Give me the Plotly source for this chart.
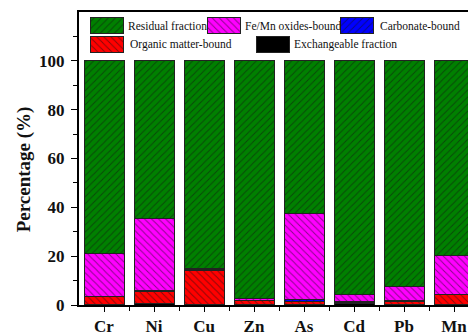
import plotly.graph_objects as go

# Chemical fractionation of heavy metals (% of total)
metals = ["Cr", "Ni", "Cu", "Zn", "As", "Cd", "Pb", "Mn"]
exchangeable = [0.1, 0.6, 0.3, 0.1, 0.2, 0.5, 0.1, 0.2]
organic = [3.2, 5.0, 13.9, 1.6, 1.4, 0.6, 1.5, 3.9]
carbonate = [0.2, 0.2, 0.2, 0.2, 0.8, 0.2, 0.1, 0.2]
fe_mn = [17.4, 29.5, 0.7, 0.9, 35.2, 3.0, 6.0, 15.9]
residual = [79.1, 64.7, 84.9, 97.2, 62.4, 95.7, 92.3, 79.8]

y_ticks = [0, 20, 40, 60, 80, 100]

W, H = 468, 336
L, R, T, B = 79, 0, 12, 26
PW, PH = W - L - R, H - T - B

SERIF = "Liberation Serif, Times New Roman, serif"

# (name, values, fill colour, hatch) in stacking order, bottom to top
series = [
    ("Exchangeable fraction", exchangeable, "#000000", ""),
    ("Organic matter-bound", organic, "#ff0000", "\\"),
    ("Carbonate-bound", carbonate, "#0000ff", "/"),
    ("Fe/Mn oxides-bound", fe_mn, "#ff00ff", "\\"),
    ("Residual fraction", residual, "#008000", "/"),
]


def pattern(shape):
    return dict(shape=shape, fgcolor="#111111", fillmode="overlay",
                size=5, solidity=0.2)


fig = go.Figure()
xs = list(range(len(metals)))
for name, vals, col, hatch in series:
    fig.add_trace(go.Bar(
        x=xs, y=vals, name=name, width=0.8,
        marker=dict(color=col, pattern=pattern(hatch),
                    line=dict(color="#222222", width=1)),
        showlegend=False,
    ))

# Legend key: swatches drawn as bars on a pixel-scaled overlay axis
legend_items = [
    # name, swatch left, swatch top, text x
    ("Residual fraction", 90, 18, 126),
    ("Fe/Mn oxides-bound", 207, 18, 243),
    ("Carbonate-bound", 340, 18, 378),
    ("Organic matter-bound", 90, 37, 128),
    ("Exchangeable fraction", 256, 37, 292),
]
sw_w, sw_h = 33, 16
style = {name: (col, hatch) for name, _, col, hatch in series}
for name, sx, sy, tx in legend_items:
    col, hatch = style[name]
    fig.add_trace(go.Bar(
        x=[sx + sw_w / 2], y=[sw_h], base=[sy], width=sw_w,
        marker=dict(color=col, pattern=pattern(hatch),
                    line=dict(color="#222222", width=1)),
        xaxis="x2", yaxis="y2", showlegend=False, hoverinfo="skip",
    ))
    fig.add_annotation(
        x=tx, y=sy + sw_h / 2, xref="x2", yref="y2", text=name,
        showarrow=False, xanchor="left", yanchor="middle",
        font=dict(family=SERIF, size=11.5, color="#111111"),
    )

# Y-axis title placed in pixel terms
fig.add_annotation(
    x=(24 - L) / PW, y=(H - B - 172) / PH, xref="paper", yref="paper",
    xanchor="center", yanchor="middle",
    text="Percentage (%)", textangle=-90, showarrow=False,
    font=dict(family=SERIF, size=19, color="#111111", weight="bold"),
)

fig.update_layout(
    width=W, height=H,
    margin=dict(l=L, r=R, t=T, b=B, pad=0),
    barmode="stack",
    bargap=0.2,
    paper_bgcolor="white", plot_bgcolor="white",
    xaxis=dict(
        range=[-0.5, -0.5 + PW / 50], tickmode="array", tickvals=xs,
        ticktext=metals, showgrid=False, zeroline=False,
        showline=True, linecolor="black", linewidth=2, mirror=True,
        ticks="outside", ticklen=5, tickwidth=1.2, tickcolor="black",
        tickfont=dict(family=SERIF, size=17, color="#111111", weight="bold"),
        minor=dict(tickmode="array", tickvals=[i + 0.5 for i in xs],
                   ticks="outside", ticklen=4, tickwidth=1.2,
                   tickcolor="black", showgrid=False),
    ),
    yaxis=dict(
        range=[0, 120], tickmode="array", tickvals=y_ticks,
        showgrid=False, zeroline=False,
        showline=True, linecolor="black", linewidth=2, mirror=False,
        ticks="outside", ticklen=6, tickwidth=1.2, tickcolor="black",
        ticklabelstandoff=3,
        tickfont=dict(family=SERIF, size=17, color="#111111", weight="bold"),
        minor=dict(tickmode="array", tickvals=[10, 30, 50, 70, 90, 110],
                   ticks="outside", ticklen=4, tickwidth=1.2,
                   tickcolor="black", showgrid=False),
    ),
    xaxis2=dict(range=[L, W - R], overlaying="x", anchor="y2",
                visible=False, fixedrange=True),
    yaxis2=dict(range=[H - B, T], overlaying="y", anchor="x2",
                visible=False, fixedrange=True),
)

fig.write_html("out.html")
